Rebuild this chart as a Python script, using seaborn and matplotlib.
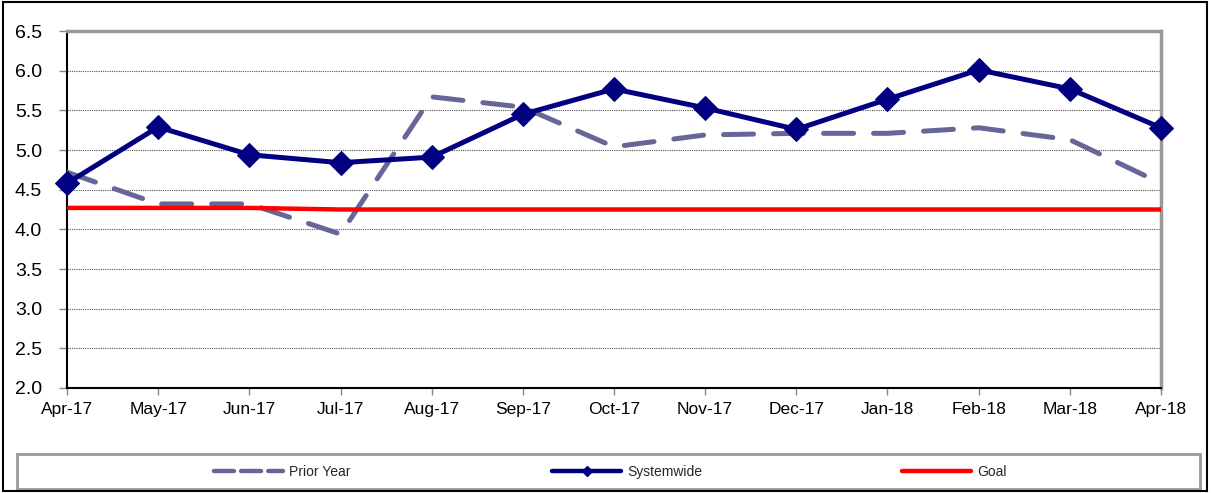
import numpy as np
import pandas as pd
import matplotlib
matplotlib.use("Agg")
import matplotlib.pyplot as plt
from matplotlib.patches import Rectangle
from matplotlib.lines import Line2D
import seaborn as sns

# Monthly values
months = ["Apr-17", "May-17", "Jun-17", "Jul-17", "Aug-17", "Sep-17", "Oct-17",
          "Nov-17", "Dec-17", "Jan-18", "Feb-18", "Mar-18", "Apr-18"]
systemwide = [4.58, 5.29, 4.94, 4.84, 4.91, 5.45, 5.77, 5.53, 5.26, 5.64, 6.01, 5.77, 5.28]
prior_year = [4.72, 4.32, 4.32, 3.94, 5.67, 5.54, 5.04, 5.19, 5.21, 5.21, 5.28, 5.13, 4.58]
goal = [4.27, 4.27, 4.27, 4.25, 4.25, 4.25, 4.25, 4.25, 4.25, 4.25, 4.25, 4.25, 4.25]

NAVY = "#000080"
SLATE = "#666699"
RED = "#FF0000"

sns.set_theme(style="white")
plt.rcParams["font.family"] = ["Liberation Sans", "DejaVu Sans"]

df = pd.DataFrame({"month": months, "idx": np.arange(len(months)),
                   "Systemwide": systemwide, "Prior Year": prior_year, "Goal": goal})

fig = plt.figure(figsize=(12.11, 4.93), dpi=100)
ax = fig.add_axes([67 / 1211, 1 - 388 / 493, (1161 - 67) / 1211, (388 - 31) / 493])

# Prior year: dashed line
sns.lineplot(data=df, x="idx", y="Prior Year", ax=ax, color=SLATE, lw=3.6,
             linestyle=(0, (6, 4)), dash_capstyle="round", zorder=3)

# Goal line
sns.lineplot(data=df, x="idx", y="Goal", ax=ax, color=RED, lw=3.2, zorder=4)

# Systemwide with diamond markers
sns.lineplot(data=df, x="idx", y="Systemwide", ax=ax, color=NAVY, lw=3.6,
             marker="D", markersize=12, markeredgecolor=NAVY,
             markerfacecolor=NAVY, zorder=5, clip_on=False)

ax.set_xlim(0, len(months) - 1)
ax.set_ylim(2.0, 6.5)
ax.set_xticks(df["idx"])
ax.set_xticklabels(months)
yt = np.arange(2.0, 6.51, 0.5)
ax.set_yticks(yt)
ax.set_yticklabels([f"{v:.1f}" for v in yt])
ax.set_xlabel("")
ax.set_ylabel("")

ax.yaxis.grid(True, linestyle=(0, (1, 1)), color="#555555", lw=0.8)
ax.xaxis.grid(False)
ax.yaxis.get_gridlines()[0].set_visible(False)

ax.tick_params(axis="y", which="major", direction="out", length=6, width=1,
               color="#888888", labelsize=14, pad=12, left=True)
ax.tick_params(axis="x", which="major", direction="out", length=5, width=1,
               color="#888888", labelsize=12.5, pad=5, bottom=True)
for lab in ax.get_xticklabels() + ax.get_yticklabels():
    lab.set_color("black")

ax.spines["left"].set_color("black")
ax.spines["left"].set_linewidth(1.5)
ax.spines["bottom"].set_color("black")
ax.spines["bottom"].set_linewidth(1.5)
ax.spines["top"].set_color("#999999")
ax.spines["top"].set_linewidth(2.5)
ax.spines["right"].set_color("#999999")
ax.spines["right"].set_linewidth(2.5)

# Legend frame and entries
fig.patches.append(Rectangle((17 / 1211, 1 - 489 / 493), (1200 - 17) / 1211, (489 - 454) / 493,
                             transform=fig.transFigure, fill=False,
                             edgecolor="#999999", lw=2))
handles = [
    Line2D([], [], color=SLATE, lw=3.2, linestyle=(0, (4.5, 1.6)), dash_capstyle="round"),
    Line2D([], [], color=NAVY, lw=3.2, marker="D", markersize=5),
    Line2D([], [], color=RED, lw=3.2),
]
labels = ["Prior Year", "Systemwide", "Goal"]
starts = [214, 552, 902]
for h, lab, x0 in zip(handles, labels, starts):
    fig.legend([h], [lab], loc="center left", bbox_to_anchor=(x0 / 1211, 1 - 472 / 493),
               frameon=False, fontsize=10, handlelength=5.0, handletextpad=0.4,
               borderpad=0, borderaxespad=0)

# Outer border
fig.patches.append(Rectangle((3 / 1211, 2 / 493), (1207 - 3) / 1211, (491 - 2) / 493,
                             transform=fig.transFigure, fill=False,
                             edgecolor="black", lw=1.5))

fig.savefig("out.png", dpi=100)
